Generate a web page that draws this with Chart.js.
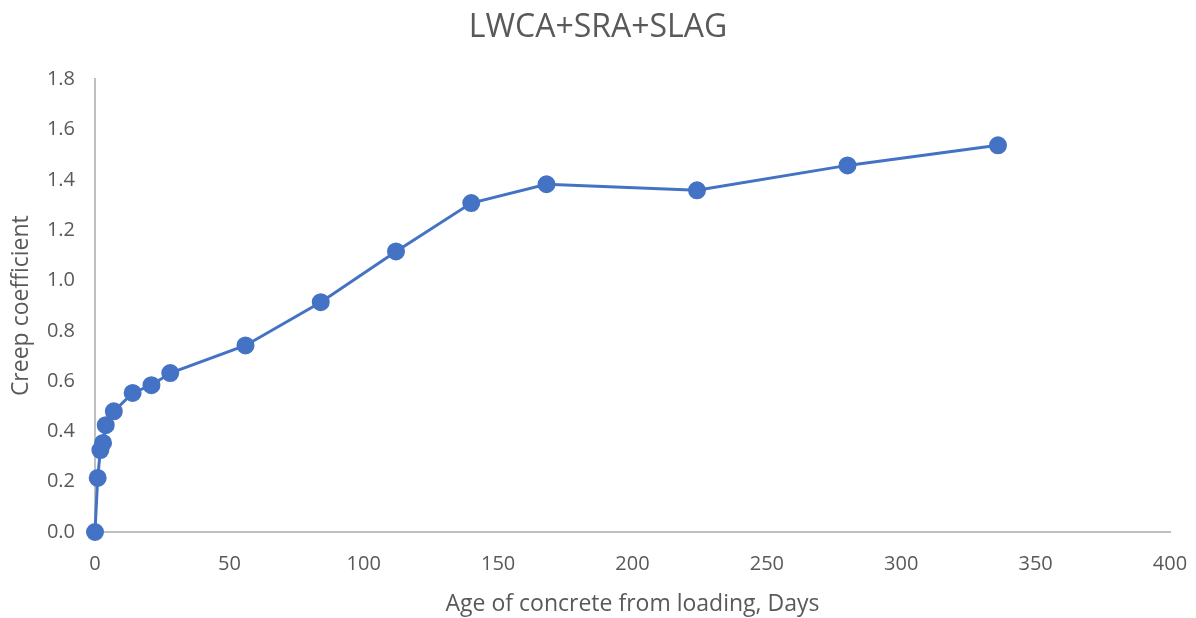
<!DOCTYPE html>
<html>
<head>
<meta charset="utf-8">
<script src="https://cdn.jsdelivr.net/npm/chart.js@4"></script>
<style>
  html, body { margin: 0; padding: 0; background: #fff; }
  #wrap { width: 1196px; height: 618px; }
</style>
</head>
<body>
<div id="wrap"><canvas id="chartCreep"></canvas></div>
<script>
const days = [0, 1, 2, 3, 4, 7, 14, 21, 28, 56, 84, 112, 140, 168, 224, 280, 336]
const creep = [0, 0.215, 0.326, 0.354, 0.425, 0.48, 0.553, 0.584, 0.632, 0.742, 0.914, 1.116, 1.308, 1.383, 1.359, 1.458, 1.538]

const grey = '#595959'
const font = 'Open Sans, Lato, sans-serif'

const points = []
days.forEach((d, i) => points.push({ x: d, y: creep[i] }))

const ctx = document.getElementById('chartCreep').getContext('2d')
window.creepChart = new Chart(ctx, {
  type: 'scatter',
  data: {
    datasets: [{
      label: 'LWCA+SRA+SLAG',
      data: points,
      showLine: true,
      clip: false,
      borderColor: '#4472C4',
      backgroundColor: '#4472C4',
      borderWidth: 3,
      pointRadius: 7.5,
      pointHoverRadius: 7.5
    }]
  },
  options: {
    responsive: true,
    maintainAspectRatio: false,
    animation: false,
    layout: { padding: { left: 4, right: 4, top: 0, bottom: 0 } },
    plugins: {
      legend: { display: false },
      tooltip: { enabled: false },
      title: {
        display: true,
        text: 'LWCA+SRA+SLAG',
        color: grey,
        font: { family: font, size: 32, weight: 'normal' },
        padding: { top: 9, bottom: 32 }
      }
    },
    scales: {
      x: {
        type: 'linear',
        min: 0,
        max: 400,
        ticks: { stepSize: 50, color: grey, font: { family: font, size: 20 }, padding: 20 },
        grid: { display: false, drawTicks: false },
        border: { color: '#bfbfbf', width: 2 },
        title: { display: true, text: 'Age of concrete from loading, Days', color: grey, font: { family: font, size: 23 }, padding: { top: 4, bottom: 0 } },
        afterFit: (s) => { s.height = 86; s.paddingLeft = 0; s.paddingRight = 26 }
      },
      y: {
        min: 0,
        max: 1.8,
        ticks: { stepSize: 0.2, color: grey, font: { family: font, size: 20 }, padding: 20, callback: (v) => v.toFixed(1) },
        grid: { display: false, drawTicks: false },
        border: { color: '#bfbfbf', width: 2 },
        title: { display: true, text: 'Creep coefficient', color: grey, font: { family: font, size: 23 }, padding: { top: 4, bottom: 0 } },
        afterFit: (s) => { s.width = 91 }
      }
    }
  }
})
</script>
</body>
</html>
